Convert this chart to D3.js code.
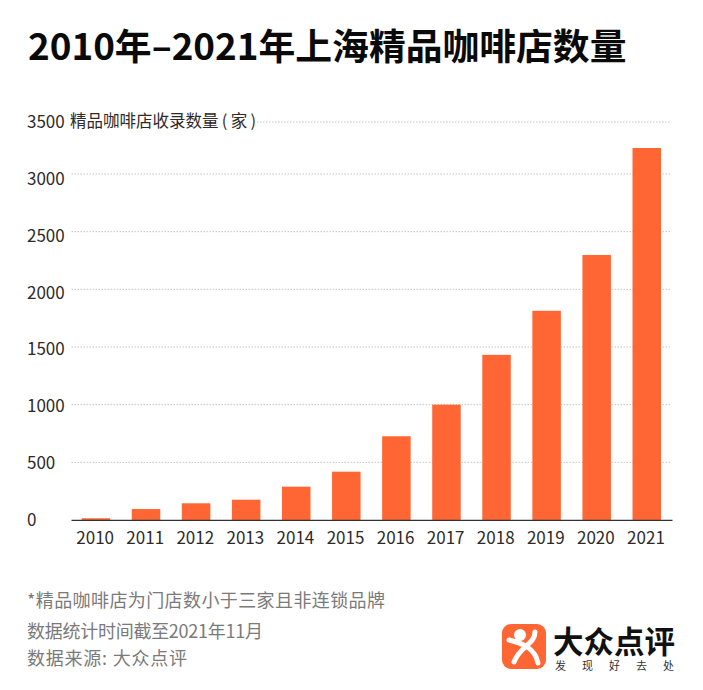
<!DOCTYPE html>
<html lang="zh-CN">
<head>
  <meta charset="UTF-8">
  <title>2010年–2021年上海精品咖啡店数量</title>
  <script src="https://d3js.org/d3.v7.min.js"></script>
  <style>
    html, body {
      margin: 0;
      padding: 0;
      overflow: hidden;
      background: #fff;
    }
    svg {
      display: block;
      font-family: "Noto Sans CJK SC", "Noto Sans", sans-serif;
    }
  </style>
</head>
<body>
  <svg width="703" height="690"></svg>

  <script>
    const years = ["2010", "2011", "2012", "2013", "2014", "2015", "2016", "2017", "2018", "2019", "2020", "2021"];
    const shops = [15, 95, 145, 176, 289, 419, 726, 1000, 1432, 1814, 2298, 3250];
    const yTicks = [0, 500, 1000, 1500, 2000, 2500, 3000, 3500];
    const notes = ["*精品咖啡店为门店数小于三家且非连锁品牌", "数据统计时间截至2021年11月", "数据来源:  大众点评"];
    const noteY = [607, 638, 665];
    const noteWidth = [358, 236, 160];

    const orange = "#ff6633";
    const svg = d3.select("svg");

    svg.append("text")
      .attr("x", 28).attr("y", 60)
      .attr("font-size", 36.8).attr("font-weight", 700).attr("fill", "#0a0a0a")
      .text("2010年–2021年上海精品咖啡店数量");

    const x = d3.scaleBand().domain(years).range([81.7, 661]).paddingInner(0.431).paddingOuter(0);
    // the top gridline sits closer in the original, so the axis has a kink at 3000
    const y = d3.scaleLinear().domain([0, 3000, 3500]).range([520, 174, 122]);
    const yLabel = d3.scaleLinear().domain([0, 3500]).range([526, 128]);

    svg.append("g").selectAll("line")
      .data(yTicks.slice(1))
      .enter().append("line")
      .attr("x1", d => d === 3500 ? 257 : 71.5)
      .attr("x2", 671)
      .attr("y1", d => y(d))
      .attr("y2", d => y(d))
      .attr("stroke", "#c4c4c4")
      .attr("stroke-width", 1)
      .attr("stroke-dasharray", "1.5 1.5");

    svg.append("g").selectAll("rect")
      .data(years)
      .enter().append("rect")
      .attr("x", d => x(d))
      .attr("width", x.bandwidth())
      .attr("y", (d, i) => y(shops[i]))
      .attr("height", (d, i) => y(0) - y(shops[i]))
      .attr("fill", orange);

    svg.append("line")
      .attr("x1", 71.5).attr("x2", 672.5)
      .attr("y1", 520.3).attr("y2", 520.3)
      .attr("stroke", "#333").attr("stroke-width", 1.2);

    svg.append("g").selectAll("text")
      .data(yTicks)
      .enter().append("text")
      .attr("x", 27)
      .attr("y", d => yLabel(d))
      .attr("font-size", 17).attr("fill", "#2e2a28")
      .text(d => d);

    svg.append("text")
      .attr("x", 70).attr("y", 127)
      .attr("font-size", 16.5).attr("fill", "#2e2a28")
      .text("精品咖啡店收录数量\u2009(\u2009家\u2009)");

    svg.append("g").selectAll("text")
      .data(years)
      .enter().append("text")
      .attr("x", d => x(d) + x.bandwidth() / 2 - 0.8)
      .attr("y", 544)
      .attr("text-anchor", "middle")
      .attr("font-size", 17).attr("fill", "#2e2a28")
      .text(d => d);

    svg.append("g").selectAll("text")
      .data(notes)
      .enter().append("text")
      .attr("x", 27)
      .attr("y", (d, i) => noteY[i])
      .attr("font-size", 18).attr("fill", "#7a7a7a")
      .attr("textLength", (d, i) => noteWidth[i])
      .text(d => d);

    // logo
    const logo = svg.append("g");
    logo.append("rect")
      .attr("x", 502).attr("y", 624).attr("width", 44).attr("height", 45).attr("rx", 9)
      .attr("fill", orange);
    logo.append("circle").attr("cx", 520).attr("cy", 635).attr("r", 6).attr("fill", "#fff");
    logo.append("path")
      .attr("d", "M535 632 C535 644 520 646 514 662")
      .attr("fill", "none").attr("stroke", "#fff").attr("stroke-width", 5).attr("stroke-linecap", "round");
    logo.append("path")
      .attr("d", "M509 640 C522 643 535 648 538 663")
      .attr("fill", "none").attr("stroke", "#fff").attr("stroke-width", 5).attr("stroke-linecap", "round");
    logo.append("text")
      .attr("x", 553).attr("y", 653)
      .attr("font-size", 30.5).attr("font-weight", 700).attr("fill", "#111")
      .text("大众点评");
    logo.append("g").selectAll("text")
      .data(["发", "现", "好", "去", "处"])
      .enter().append("text")
      .attr("x", (d, i) => 555 + i * 27)
      .attr("y", 670)
      .attr("font-size", 11).attr("fill", "#333")
      .text(d => d);
  </script>
</body>
</html>
